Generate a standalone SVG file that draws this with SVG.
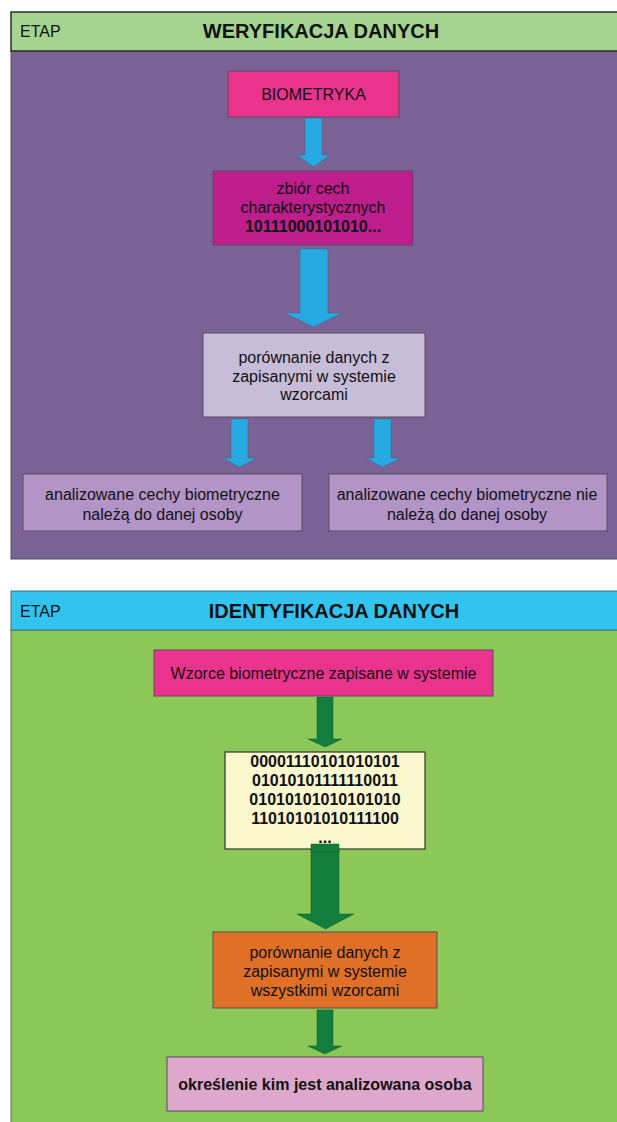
<svg xmlns="http://www.w3.org/2000/svg" width="617" height="1122" viewBox="0 0 617 1122">
<defs>
<style>
text{font-family:"Liberation Sans",Arial,sans-serif;fill:#111;}
.t{font-size:16px;text-anchor:middle;}
.b{font-weight:bold;}
.h{font-size:20px;font-weight:bold;text-anchor:middle;}
.e{font-size:16px;}
.box{stroke:#5a4a5a;stroke-width:1;}
.ab{fill:#27a9e1;stroke:#3a6a8a;stroke-width:0.5;}
.ag{fill:#137e3c;stroke:#0d5a2a;stroke-width:0.5;}
</style>
</defs>
<rect width="617" height="1122" fill="#ffffff"/>
<g id="panel1">
<rect x="11" y="51" width="610" height="508" fill="#7a6296" stroke="#555" stroke-width="1"/>
<rect x="11" y="12" width="610" height="39" fill="#a6d490" stroke="#2d2d2d" stroke-width="1.5"/>
<text class="e" x="20" y="37">ETAP</text>
<text class="h" x="321" y="38">WERYFIKACJA DANYCH</text>
</g>
<g id="panel2">
<rect x="11" y="630" width="610" height="495" fill="#8cc857" stroke="#666" stroke-width="1"/>
<rect x="11" y="591" width="610" height="39" fill="#33c3ef" stroke="#4a6a7a" stroke-width="1"/>
<text class="e" x="20" y="617">ETAP</text>
<text class="h" x="334" y="618">IDENTYFIKACJA DANYCH</text>
</g>
<g id="connectors">
<polygon class="ab" points="305,118 322,118 322,155 330,155 313.5,167 297,155 305,155"/>
<polygon class="ab" points="300,249 328,249 328,313 342,313 313.5,327 285,313 300,313"/>
<polygon class="ab" points="231,419 248,419 248,458 257,458 239.5,467 223,458 231,458"/>
<polygon class="ab" points="374,419 391,419 391,458 400,458 382.5,467 366,458 374,458"/>
<polygon class="ag" points="317,697 333,697 333,739 342,739 325,747 308,739 317,739"/>
<polygon class="ag" points="311,844 339,844 339,914 354,914 325.5,929 297,914 311,914"/>
<polygon class="ag" points="317,1010 333,1010 333,1046 342,1046 325,1054 308,1046 317,1046"/>
</g>
<g id="n-biometryka">
<rect class="box" x="228" y="71" width="171" height="46" fill="#ea338c"/>
<text class="t" x="313.5" y="100">BIOMETRYKA</text>
</g>
<g id="n-zbior">
<rect class="box" x="213" y="171" width="200" height="74" fill="#be1e8c"/>
<text class="t" x="313" y="194">zbiór cech</text>
<text class="t" x="313" y="213">charakterystycznych</text>
<text class="t b" x="313" y="232">10111000101010...</text>
</g>
<g id="n-porownanie1">
<rect class="box" x="203" y="333" width="222" height="84" fill="#c8bdd8"/>
<text class="t" x="314" y="363">porównanie danych z</text>
<text class="t" x="314" y="382">zapisanymi w systemie</text>
<text class="t" x="314" y="400">wzorcami</text>
</g>
<g id="n-naleza">
<rect class="box" x="23" y="474" width="279" height="57" fill="#b294c7"/>
<text class="t" x="162.5" y="500">analizowane cechy biometryczne</text>
<text class="t" x="162.5" y="520">należą do danej osoby</text>
</g>
<g id="n-nienaleza">
<rect class="box" x="329" y="474" width="278" height="57" fill="#b294c7"/>
<text class="t" x="467" y="500">analizowane cechy biometryczne nie</text>
<text class="t" x="467" y="520">należą do danej osoby</text>
</g>
<g id="n-wzorce">
<rect class="box" x="154" y="650" width="339" height="46" fill="#ea338c"/>
<text class="t" x="323.5" y="679">Wzorce biometryczne zapisane w systemie</text>
</g>
<g id="n-kod">
<rect x="225" y="752" width="200" height="97" fill="#fbf7ce" stroke="#333" stroke-width="1.2"/>
<text class="t b" x="325" y="767">00001110101010101</text>
<text class="t b" x="325" y="786">01010101111110011</text>
<text class="t b" x="325" y="805">01010101010101010</text>
<text class="t b" x="325" y="824">11010101010111100</text>
<text class="t b" x="325" y="843">...</text>
<polygon class="ag" points="311,844 339,844 339,852 311,852"/>
</g>
<g id="n-porownanie2">
<rect class="box" x="213" y="932" width="224" height="76" fill="#e07027"/>
<text class="t" x="325" y="958">porównanie danych z</text>
<text class="t" x="325" y="977">zapisanymi w systemie</text>
<text class="t" x="325" y="996">wszystkimi wzorcami</text>
</g>
<g id="n-okreslenie">
<rect class="box" x="167" y="1057" width="316" height="54" fill="#dea8cd"/>
<text class="t b" x="325" y="1090">określenie kim jest analizowana osoba</text>
</g>
</svg>
